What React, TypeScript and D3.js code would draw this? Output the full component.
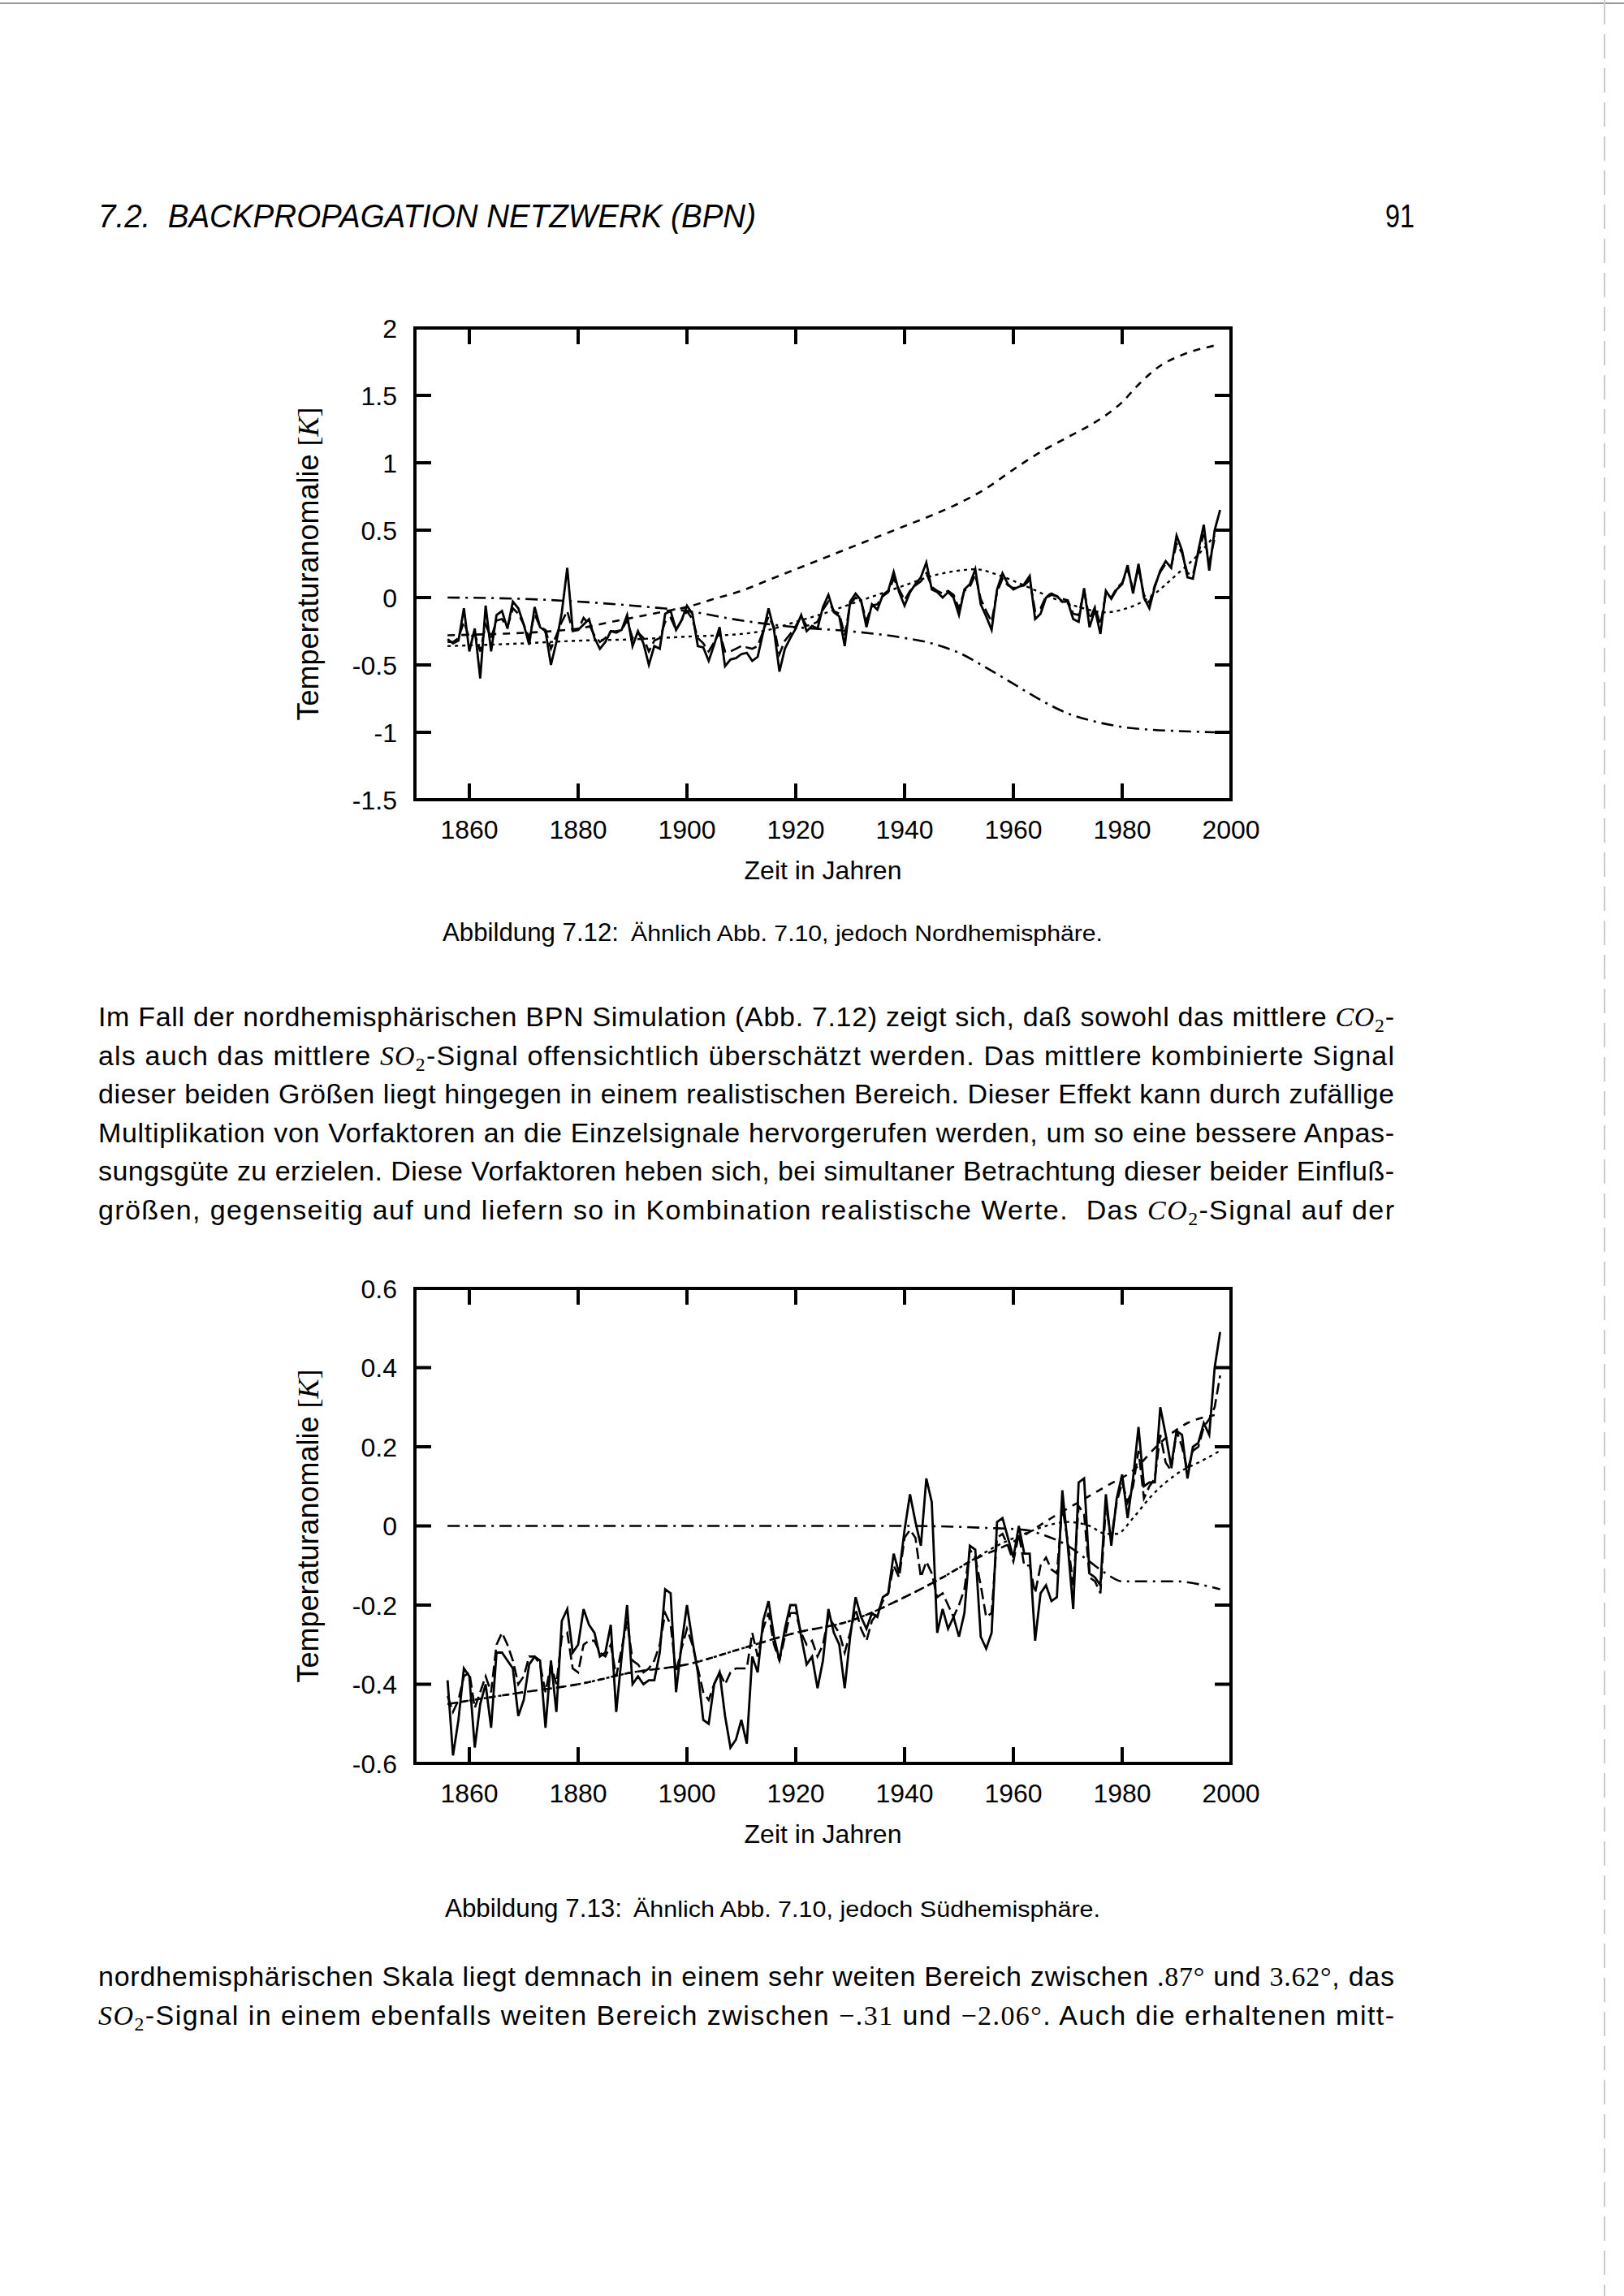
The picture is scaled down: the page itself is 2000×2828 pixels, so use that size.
import React from 'react';
import * as d3 from 'd3';

// ---------------- DATA ----------------
const START_YEAR = 1856;
const xTicks = [1860, 1880, 1900, 1920, 1940, 1960, 1980, 2000];
const xTickLabels = ['1860', '1880', '1900', '1920', '1940', '1960', '1980', '2000'];

const nhYTicks = [2, 1.5, 1, 0.5, 0, -0.5, -1, -1.5];
const nhYTickLabels = ['2', '1.5', '1', '0.5', '0', '-0.5', '-1', '-1.5'];
const shYTicks = [0.6, 0.4, 0.2, 0, -0.2, -0.4, -0.6];
const shYTickLabels = ['0.6', '0.4', '0.2', '0', '-0.2', '-0.4', '-0.6'];

// Northern hemisphere, observed (1856-1998)
const nhObserved = [
  -0.31, -0.34, -0.32, -0.08,
  -0.40, -0.23, -0.60, -0.06, -0.40, -0.13, -0.10, -0.23, -0.03, -0.08,
  -0.20, -0.35, -0.07, -0.22, -0.25, -0.50, -0.33, -0.11, 0.22, -0.24,
  -0.24, -0.20, -0.16, -0.30, -0.38, -0.33, -0.25, -0.26, -0.24, -0.13,
  -0.36, -0.25, -0.34, -0.50, -0.36, -0.38, -0.12, -0.10, -0.24, -0.17,
  -0.06, -0.12, -0.36, -0.37, -0.47, -0.35, -0.22, -0.51, -0.46, -0.45,
  -0.42, -0.41, -0.47, -0.44, -0.26, -0.08, -0.24, -0.55, -0.38, -0.30,
  -0.23, -0.13, -0.25, -0.21, -0.23, -0.07, 0.02, -0.11, -0.14, -0.36,
  -0.03, 0.03, -0.02, -0.22, -0.05, -0.09, 0.02, 0.05, 0.19, 0.04,
  -0.06, 0.04, 0.10, 0.15, 0.26, 0.06, 0.04, 0.00, 0.04, 0.00,
  -0.13, 0.06, 0.10, 0.21, -0.05, -0.14, -0.24, 0.06, 0.18, 0.10,
  0.06, 0.08, 0.10, 0.16, -0.16, -0.12, 0.00, 0.02, 0.01, -0.03,
  -0.03, -0.16, -0.18, 0.07, -0.22, -0.09, -0.27, 0.05, -0.01, 0.06,
  0.10, 0.24, 0.03, 0.25, 0.00, -0.08, 0.08, 0.20, 0.27, 0.22,
  0.46, 0.35, 0.15, 0.14, 0.35, 0.54, 0.20, 0.50, 0.65,
];

// Northern hemisphere, BPN model (1856-1997)
const nhModel = [
  -0.33, -0.33, -0.30, -0.18,
  -0.30, -0.27, -0.40, -0.20, -0.30, -0.17, -0.16, -0.22, -0.08, -0.12,
  -0.20, -0.30, -0.12, -0.22, -0.24, -0.38, -0.28, -0.18, -0.10, -0.25,
  -0.24, -0.15, -0.20, -0.28, -0.33, -0.30, -0.25, -0.25, -0.24, -0.17,
  -0.30, -0.26, -0.30, -0.40, -0.32, -0.30, -0.18, -0.15, -0.24, -0.17,
  -0.10, -0.16, -0.30, -0.34, -0.40, -0.33, -0.26, -0.40, -0.40, -0.38,
  -0.36, -0.37, -0.38, -0.36, -0.25, -0.14, -0.22, -0.42, -0.32, -0.27,
  -0.21, -0.14, -0.21, -0.20, -0.18, -0.09, -0.03, -0.10, -0.12, -0.28,
  -0.05, 0.00, -0.03, -0.17, -0.06, -0.05, 0.01, 0.04, 0.14, 0.06,
  -0.02, 0.05, 0.09, 0.12, 0.18, 0.08, 0.05, 0.03, 0.05, 0.02,
  -0.08, 0.05, 0.08, 0.17, -0.01, -0.10, -0.18, 0.04, 0.14, 0.09,
  0.07, 0.08, 0.09, 0.13, -0.10, -0.08, 0.01, 0.03, 0.01, -0.01,
  -0.02, -0.12, -0.13, 0.05, -0.16, -0.07, -0.20, 0.03, 0.00, 0.07,
  0.11, 0.21, 0.06, 0.22, 0.02, -0.04, 0.09, 0.19, 0.25, 0.23,
  0.40, 0.33, 0.18, 0.17, 0.33, 0.47, 0.26, 0.44,
];

const nhCo2Years = [1856, 1865, 1875, 1880, 1885, 1890, 1895, 1900, 1905, 1910, 1915, 1920, 1925, 1930, 1935, 1940, 1945, 1950, 1955, 1960, 1965, 1970, 1975, 1980, 1983, 1987, 1991, 1997];
const nhCo2Values = [-0.28, -0.27, -0.25, -0.23, -0.19, -0.15, -0.11, -0.07, -0.01, 0.05, 0.13, 0.21, 0.29, 0.37, 0.45, 0.53, 0.61, 0.70, 0.81, 0.95, 1.08, 1.19, 1.30, 1.45, 1.58, 1.72, 1.80, 1.87];

const nhSo2Years = [1856, 1870, 1880, 1890, 1900, 1910, 1920, 1930, 1940, 1945, 1950, 1955, 1960, 1965, 1970, 1975, 1980, 1985, 1990, 1997];
const nhSo2Values = [0.0, -0.01, -0.03, -0.06, -0.10, -0.17, -0.22, -0.25, -0.30, -0.34, -0.41, -0.52, -0.64, -0.76, -0.86, -0.92, -0.96, -0.98, -0.99, -1.0];

const nhCombYears = [1856, 1870, 1880, 1890, 1900, 1910, 1915, 1920, 1925, 1930, 1935, 1940, 1945, 1950, 1953, 1957, 1962, 1967, 1972, 1977, 1980, 1985, 1990, 1994, 1997];
const nhCombValues = [-0.36, -0.34, -0.32, -0.31, -0.29, -0.27, -0.24, -0.18, -0.12, -0.05, 0.02, 0.09, 0.16, 0.20, 0.21, 0.17, 0.09, 0.0, -0.07, -0.11, -0.09, 0.0, 0.17, 0.32, 0.46];

// Southern hemisphere, observed (1856-1998)
const shObserved = [
  -0.39, -0.58, -0.49, -0.36,
  -0.38, -0.56, -0.45, -0.40, -0.51, -0.32, -0.32, -0.34, -0.36, -0.48,
  -0.44, -0.35, -0.33, -0.34, -0.51, -0.34, -0.47, -0.24, -0.21, -0.32,
  -0.30, -0.21, -0.25, -0.27, -0.33, -0.32, -0.25, -0.47, -0.33, -0.20,
  -0.40, -0.38, -0.40, -0.39, -0.39, -0.32, -0.16, -0.17, -0.42, -0.30,
  -0.20, -0.29, -0.37, -0.49, -0.50, -0.40, -0.37, -0.48, -0.56, -0.54,
  -0.49, -0.55, -0.33, -0.37, -0.24, -0.19, -0.28, -0.34, -0.26, -0.20,
  -0.20, -0.28, -0.35, -0.33, -0.41, -0.34, -0.21, -0.27, -0.30, -0.41,
  -0.28, -0.18, -0.23, -0.26, -0.22, -0.23, -0.18, -0.17, -0.07, -0.12,
  -0.01, 0.08, 0.01, -0.05, 0.12, 0.06, -0.27, -0.21, -0.26, -0.23,
  -0.28, -0.22, -0.05, -0.06, -0.28, -0.31, -0.27, 0.01, 0.02, -0.03,
  -0.08, 0.00, -0.07, -0.07, -0.29, -0.17, -0.15, -0.19, -0.18, 0.09,
  -0.05, -0.21, 0.11, 0.12, -0.12, -0.13, -0.15, 0.08, -0.05, 0.07,
  0.13, 0.02, 0.12, 0.25, 0.10, 0.11, 0.11, 0.30, 0.23, 0.15,
  0.24, 0.23, 0.12, 0.20, 0.21, 0.26, 0.23, 0.40, 0.49,
];

// Southern hemisphere, BPN model (1856-1998)
const shModel = [
  -0.43, -0.47, -0.44, -0.38,
  -0.37, -0.46, -0.42, -0.38, -0.42, -0.30, -0.27, -0.30, -0.34, -0.40,
  -0.38, -0.33, -0.33, -0.35, -0.42, -0.35, -0.40, -0.28, -0.27, -0.36,
  -0.37, -0.30, -0.29, -0.29, -0.32, -0.33, -0.30, -0.38, -0.31, -0.24,
  -0.34, -0.35, -0.37, -0.36, -0.34, -0.30, -0.22, -0.25, -0.37, -0.31,
  -0.26, -0.30, -0.36, -0.42, -0.44, -0.40, -0.37, -0.40, -0.37, -0.36,
  -0.36, -0.36, -0.27, -0.33, -0.26, -0.22, -0.30, -0.34, -0.28, -0.22,
  -0.22, -0.27, -0.30, -0.29, -0.33, -0.30, -0.23, -0.25, -0.27, -0.32,
  -0.27, -0.21, -0.26, -0.29, -0.24, -0.22, -0.19, -0.17, -0.10, -0.13,
  -0.03, -0.01, -0.03, -0.13, -0.09, -0.12, -0.18, -0.17, -0.20, -0.23,
  -0.20, -0.16, -0.06, -0.08, -0.15, -0.23, -0.22, -0.03, -0.02, -0.05,
  -0.09, -0.02, -0.10, -0.10, -0.17, -0.10, -0.08, -0.11, -0.12, 0.05,
  -0.04, -0.15, 0.05, 0.03, -0.13, -0.14, -0.17, 0.05, -0.03, 0.06,
  0.11, 0.06, 0.10, 0.19, 0.07, 0.10, 0.12, 0.23, 0.16, 0.14,
  0.24, 0.20, 0.14, 0.19, 0.20, 0.25, 0.27, 0.30, 0.38,
];

const shCo2Years = [1856, 1870, 1880, 1890, 1900, 1910, 1920, 1930, 1940, 1947, 1952, 1960, 1967, 1972, 1977, 1982, 1987, 1992, 1997];
const shCo2Values = [-0.45, -0.42, -0.40, -0.37, -0.35, -0.31, -0.27, -0.24, -0.18, -0.13, -0.09, -0.04, 0.02, 0.06, 0.10, 0.14, 0.21, 0.26, 0.28];

const shSo2Years = [1856, 1900, 1940, 1955, 1962, 1966, 1970, 1974, 1977, 1980, 1985, 1990, 1995, 1998];
const shSo2Values = [0, 0, 0, -0.005, -0.01, -0.025, -0.05, -0.09, -0.12, -0.14, -0.14, -0.14, -0.15, -0.16];

const shCombYears = [1856, 1870, 1880, 1890, 1900, 1910, 1920, 1930, 1940, 1947, 1952, 1957, 1962, 1966, 1970, 1974, 1977, 1979, 1982, 1985, 1988, 1991, 1994, 1998];
const shCombValues = [-0.45, -0.42, -0.40, -0.37, -0.35, -0.31, -0.27, -0.24, -0.18, -0.13, -0.09, -0.05, -0.02, 0.00, 0.01, 0.0, -0.02, -0.02, 0.02, 0.07, 0.11, 0.14, 0.16, 0.19];

// ---------------- TEXT ----------------
const headerText = '7.2.  BACKPROPAGATION NETZWERK (BPN)';
const pageNumber = '91';
const xAxisTitle = 'Zeit in Jahren';
const yAxisTitle = 'Temperaturanomalie ';
const caption1Label = 'Abbildung 7.12:';
const caption1Text = 'Ähnlich Abb. 7.10, jedoch Nordhemisphäre.';
const caption2Label = 'Abbildung 7.13:';
const caption2Text = 'Ähnlich Abb. 7.10, jedoch Südhemisphäre.';
const para1Lines = [
  'Im Fall der nordhemisphärischen BPN Simulation (Abb. 7.12) zeigt sich, daß sowohl das mittlere {CO2}-',
  'als auch das mittlere {SO2}-Signal offensichtlich überschätzt werden. Das mittlere kombinierte Signal',
  'dieser beiden Größen liegt hingegen in einem realistischen Bereich. Dieser Effekt kann durch zufällige',
  'Multiplikation von Vorfaktoren an die Einzelsignale hervorgerufen werden, um so eine bessere Anpas-',
  'sungsgüte zu erzielen. Diese Vorfaktoren heben sich, bei simultaner Betrachtung dieser beider Einfluß-',
  'größen, gegenseitig auf und liefern so in Kombination realistische Werte.  Das {CO2}-Signal auf der',
];
const para2Lines = [
  'nordhemisphärischen Skala liegt demnach in einem sehr weiten Bereich zwischen {m:.87°} und {m:3.62°}, das',
  '{SO2}-Signal in einem ebenfalls weiten Bereich zwischen {m:−.31} und {m:−2.06°}. Auch die erhaltenen mitt-',
];

// ---------------- LAYOUT ----------------
const PLOT_LEFT = 511;
const PLOT_RIGHT = 1516;
const SANS = "'Liberation Sans', 'DejaVu Sans', sans-serif";
const SERIF = "'Liberation Serif', 'DejaVu Serif', serif";
const TEXT_LEFT = 121;
const TEXT_RIGHT = 1717;

type Pt = [number, number];
const annual = (vals: number[]): Pt[] => vals.map((v, i) => [START_YEAR + i, v]);
const zip = (ys: number[], vs: number[]): Pt[] => ys.map((y, i) => [y, vs[i]]);

interface ChartProps {
  top: number;
  bottom: number;
  yDomain: [number, number];
  yTicks: number[];
  yTickLabels: string[];
  observed: number[];
  model: number[];
  co2: Pt[];
  so2: Pt[];
  comb: Pt[];
}

function Chart(p: ChartProps) {
  const x = d3.scaleLinear().domain([1850, 2000]).range([PLOT_LEFT, PLOT_RIGHT]);
  const y = d3.scaleLinear().domain(p.yDomain).range([p.bottom, p.top]);
  const rough = d3.line<Pt>().x(d => x(d[0])).y(d => y(d[1]));
  const smooth = d3.line<Pt>().x(d => x(d[0])).y(d => y(d[1])).curve(d3.curveMonotoneX);
  const tick = 20;
  const midY = (p.top + p.bottom) / 2;
  return (
    <g>
      {/* data lines */}
      <path d={smooth(p.so2) || ''} fill="none" stroke="#000" strokeWidth={2.6} strokeDasharray="15,7,3,7" />
      <path d={smooth(p.co2) || ''} fill="none" stroke="#000" strokeWidth={2.6} strokeDasharray="9,8" />
      <path d={smooth(p.comb) || ''} fill="none" stroke="#000" strokeWidth={2.4} strokeDasharray="4,5" />
      <path d={rough(annual(p.model)) || ''} fill="none" stroke="#000" strokeWidth={2.6} strokeDasharray="14,6" />
      <path d={rough(annual(p.observed)) || ''} fill="none" stroke="#000" strokeWidth={2.8} strokeLinejoin="miter" />
      {/* frame */}
      <rect x={PLOT_LEFT} y={p.top} width={PLOT_RIGHT - PLOT_LEFT} height={p.bottom - p.top} fill="none" stroke="#000" strokeWidth={4} />
      {xTicks.filter(t => t < 2000).map(t => (
        <g key={'xt' + t}>
          <line x1={x(t)} x2={x(t)} y1={p.bottom} y2={p.bottom - tick} stroke="#000" strokeWidth={4} />
          <line x1={x(t)} x2={x(t)} y1={p.top} y2={p.top + tick} stroke="#000" strokeWidth={4} />
        </g>
      ))}
      {p.yTicks.filter((t, i) => i > 0 && i < p.yTicks.length - 1).map(t => (
        <g key={'yt' + t}>
          <line x1={PLOT_LEFT} x2={PLOT_LEFT + tick} y1={y(t)} y2={y(t)} stroke="#000" strokeWidth={4} />
          <line x1={PLOT_RIGHT} x2={PLOT_RIGHT - tick} y1={y(t)} y2={y(t)} stroke="#000" strokeWidth={4} />
        </g>
      ))}
      {/* tick labels */}
      {xTicks.map((t, i) => (
        <text key={'xl' + t} x={x(t)} y={p.bottom + 48} fontSize={32} fontFamily={SANS} textAnchor="middle">{xTickLabels[i]}</text>
      ))}
      {p.yTicks.map((t, i) => (
        <text key={'yl' + t} x={PLOT_LEFT - 22} y={y(t)} dy="0.36em" fontSize={32} fontFamily={SANS} textAnchor="end">{p.yTickLabels[i]}</text>
      ))}
      <text x={(PLOT_LEFT + PLOT_RIGHT) / 2} y={p.bottom + 98} fontSize={32} fontFamily={SANS} textAnchor="middle">{xAxisTitle}</text>
      <text transform={`translate(392,${midY}) rotate(-90)`} fontSize={36} fontFamily={SANS} textAnchor="middle">
        {yAxisTitle}
        <tspan fontFamily={SERIF}>[</tspan>
        <tspan fontFamily={SERIF} fontStyle="italic">K</tspan>
        <tspan fontFamily={SERIF}>]</tspan>
      </text>
    </g>
  );
}

function RichLine({ y, text, size }: { y: number; text: string; size: number }) {
  const parts = text.split(/(\{[^}]+\})/).filter(s => s.length > 0);
  const nodes: React.ReactNode[] = [];
  let pendingDy = 0;
  parts.forEach((part, i) => {
    if (part === '{CO2}' || part === '{SO2}') {
      const base = part === '{CO2}' ? 'CO' : 'SO';
      nodes.push(<tspan key={i + 'a'} fontFamily={SERIF} fontStyle="italic" dy={pendingDy || undefined}>{base}</tspan>);
      nodes.push(<tspan key={i + 'b'} fontFamily={SERIF} fontSize={size * 0.7} dy={7}>2</tspan>);
      pendingDy = -7;
    } else if (part.startsWith('{m:')) {
      nodes.push(<tspan key={i} fontFamily={SERIF} dy={pendingDy || undefined}>{part.slice(3, -1)}</tspan>);
      pendingDy = 0;
    } else {
      nodes.push(<tspan key={i} dy={pendingDy || undefined}>{part}</tspan>);
      pendingDy = 0;
    }
  });
  return (
    <text x={TEXT_LEFT} y={y} fontSize={size} fontFamily={SANS} textLength={TEXT_RIGHT - TEXT_LEFT} lengthAdjust="spacing" style={{ whiteSpace: 'pre' }}>
      {nodes}
    </text>
  );
}

export default function App() {
  const W = 2000;
  const H = 2828;
  return (
    <svg width={W} height={H} viewBox={`0 0 ${W} ${H}`} style={{ position: 'absolute', left: 0, top: 0, background: '#fff' }}>
      <rect x={0} y={0} width={W} height={H} fill="#fff" />
      {/* scan artefacts */}
      <line x1={0} x2={W} y1={4} y2={4} stroke="#999" strokeWidth={2} />
      <line x1={1976} x2={1976} y1={0} y2={H} stroke="#ccc" strokeWidth={2} strokeDasharray="30,12" />

      {/* running head */}
      <text x={TEXT_LEFT} y={280} fontSize={40} fontFamily={SANS} fontStyle="italic" textLength={810} lengthAdjust="spacingAndGlyphs" style={{ whiteSpace: 'pre' }}>{headerText}</text>
      <text x={1742} y={280} fontSize={40} fontFamily={SANS} textAnchor="end" textLength={36} lengthAdjust="spacingAndGlyphs">{pageNumber}</text>

      <Chart top={404} bottom={985} yDomain={[-1.5, 2]} yTicks={nhYTicks} yTickLabels={nhYTickLabels}
        observed={nhObserved} model={nhModel}
        co2={zip(nhCo2Years, nhCo2Values)} so2={zip(nhSo2Years, nhSo2Values)} comb={zip(nhCombYears, nhCombValues)} />

      <text x={545} y={1159} fontSize={32} fontFamily={SANS} textLength={217} lengthAdjust="spacingAndGlyphs">{caption1Label}</text>
      <text x={777} y={1159} fontSize={27} fontFamily={SANS} textLength={581} lengthAdjust="spacingAndGlyphs">{caption1Text}</text>

      {para1Lines.map((l, i) => (
        <RichLine key={'p1' + i} y={1264 + i * 47.6} text={l} size={34} />
      ))}

      <Chart top={1587} bottom={2172} yDomain={[-0.6, 0.6]} yTicks={shYTicks} yTickLabels={shYTickLabels}
        observed={shObserved} model={shModel}
        co2={zip(shCo2Years, shCo2Values)} so2={zip(shSo2Years, shSo2Values)} comb={zip(shCombYears, shCombValues)} />

      <text x={548} y={2361} fontSize={32} fontFamily={SANS} textLength={218} lengthAdjust="spacingAndGlyphs">{caption2Label}</text>
      <text x={780} y={2361} fontSize={27} fontFamily={SANS} textLength={575} lengthAdjust="spacingAndGlyphs">{caption2Text}</text>

      {para2Lines.map((l, i) => (
        <RichLine key={'p2' + i} y={2446 + i * 48} text={l} size={34} />
      ))}
    </svg>
  );
}
